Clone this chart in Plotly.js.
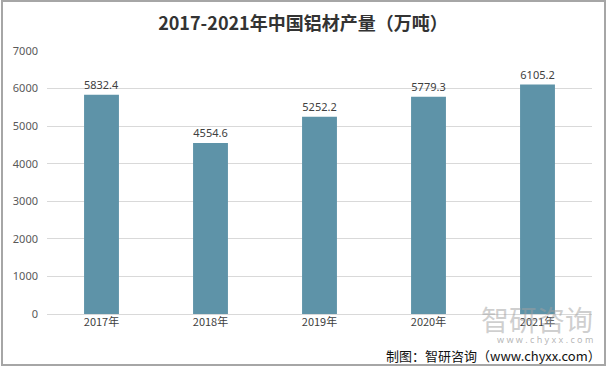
<!DOCTYPE html>
<html>
<head>
<meta charset="utf-8">
<script src="https://cdn.plot.ly/plotly-3.0.1.min.js"></script>
<style>
body{margin:0;padding:0;background:#fff;}
#wrap{position:absolute;left:0;top:0;width:612px;height:371px;}
#frame{position:absolute;left:1px;top:0px;width:605px;height:366px;border:2px solid #a6a6a6;box-sizing:border-box;pointer-events:none;}
#chart{position:absolute;left:0;top:0;width:612px;height:371px;}
</style>
</head>
<body>
<div id="wrap"><div id="chart"></div><div id="frame"></div></div>
<script>
var years = ['2017年','2018年','2019年','2020年','2021年'];
var output = [5832.4, 4554.6, 5252.2, 5779.3, 6105.2];
var yTicks = [0,1000,2000,3000,4000,5000,6000,7000];

var trace = {
  type:'bar', x: years, y: output,
  marker:{color:'#5E93A8'},
  width:0.32,
  text: output.map(function(v){return v.toFixed(1);}),
  textposition:'outside',
  textfont:{family:'"Noto Sans", "DejaVu Sans", sans-serif', size:11, color:'#404040'},
  cliponaxis:false,
  hoverinfo:'none'
};
var layout = {
  width:612, height:371,
  margin:{l:47, r:20, t:51, b:57},
  paper_bgcolor:'#fff', plot_bgcolor:'#fff',
  showlegend:false,
  title:{text:'<b>2017-2021年中国铝材产量（万吨）</b>', x:0.495, xanchor:'center', y:0.935, yanchor:'middle',
    font:{family:'"Noto Sans CJK SC", sans-serif', size:18, color:'#333333'}},
  xaxis:{type:'category', showgrid:false, showline:false, ticks:'', zeroline:false,
    tickfont:{family:'"Noto Sans CJK SC", sans-serif', size:11, color:'#404040'}},
  yaxis:{range:[0,7000], tickvals:yTicks, showgrid:true, gridcolor:'#d9d9d9', gridwidth:1,
    zeroline:true, zerolinecolor:'#d9d9d9', showline:false, ticks:'', ticklabelstandoff:8,
    tickfont:{family:'"Noto Sans", "DejaVu Sans", sans-serif', size:11, color:'#595959'}},
  annotations:[
    {text:'智研咨询', xref:'paper', yref:'paper', x:1.006, y:-0.02, xanchor:'right', yanchor:'middle', showarrow:false,
      font:{family:'"Noto Sans CJK SC", sans-serif', size:28, color:'rgba(160,160,160,0.5)'}},
    {text:'w w w . c h y x x . c o m', xref:'paper', yref:'paper', x:1.006, y:-0.097, xanchor:'right', yanchor:'middle', showarrow:false,
      font:{family:'"Noto Sans", sans-serif', size:9, color:'rgba(150,150,150,0.7)'}},
    {text:'制图：智研咨询（www.chyxx.com）', xref:'paper', yref:'paper', x:1.02, y:-0.158, xanchor:'right', yanchor:'middle', showarrow:false,
      font:{family:'"Noto Sans CJK SC", sans-serif', size:13, color:'#111111'}}
  ]
};
Plotly.newPlot('chart',[trace],layout,{staticPlot:true, displayModeBar:false});
</script>
</body>
</html>
